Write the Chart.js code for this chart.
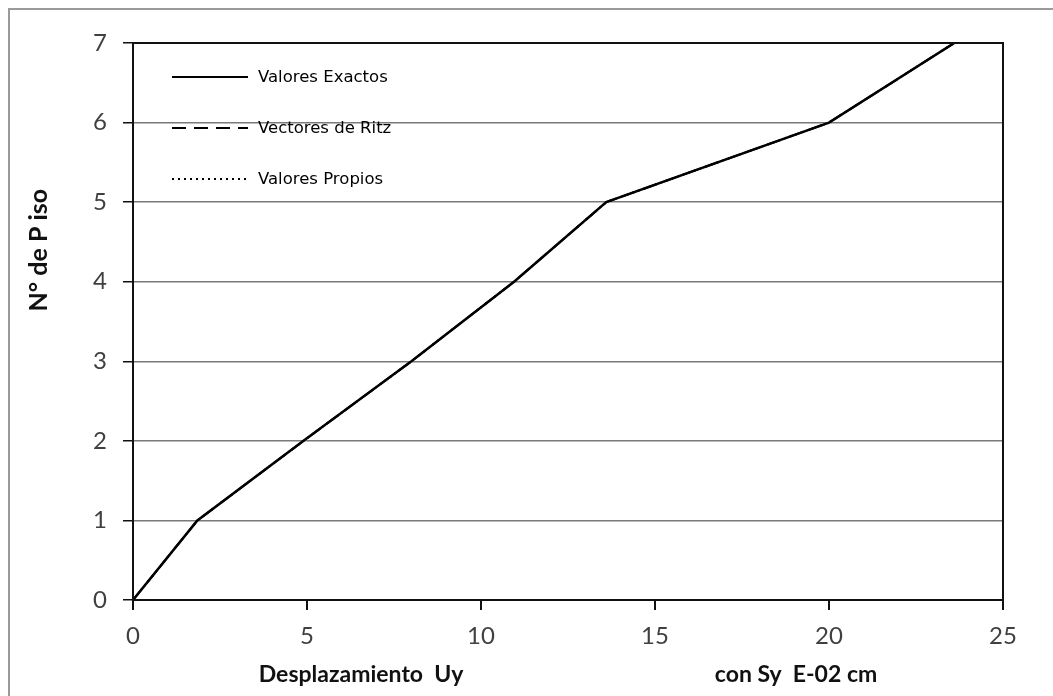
<!DOCTYPE html>
<html>
<head>
<meta charset="utf-8">
<script src="https://cdn.jsdelivr.net/npm/chart.js@4/dist/chart.umd.min.js"></script>
<style>
  body { margin: 0; background: #fff; overflow: hidden; }
  #frame { position: absolute; left: 8px; top: 8px; width: 1100px; height: 800px; border: 2px solid #9a9a9a; }
  canvas { position: absolute; left: 0; top: 0; }
</style>
</head>
<body>
<div id="frame"></div>
<canvas id="c" width="1053" height="696"></canvas>
<script>
// floor number (y) vs displacement Uy (x, E-02 cm)
const floors = [0, 1, 2, 3, 4, 5, 6, 7]
const exactos = [0, 1.85, 4.9, 8.0, 10.95, 13.6, 20.0, 23.6]
const ritz = [0, 1.85, 4.9, 8.0, 10.95, 13.6, 20.0, 23.6]
const propios = [0, 1.85, 4.9, 8.0, 10.95, 13.6, 20.0, 23.6]
const seriesNames = ['Valores Exactos', 'Vectores de Ritz', 'Valores Propios']
const xTicks = [0, 5, 10, 15, 20, 25]
const yTicks = [0, 1, 2, 3, 4, 5, 6, 7]

const toPoints = xs => xs.map((x, i) => ({ x: x, y: floors[i] }))

// box around the plot + the little line legend in the top-left corner
const decor = {
  id: 'decor',
  afterDatasetsDraw(chart) {
    const { ctx, chartArea: a } = chart
    ctx.save()
    ctx.strokeStyle = '#111'
    ctx.lineWidth = 2
    ctx.strokeRect(a.left, a.top, a.right - a.left, a.bottom - a.top)

    chart.data.datasets.forEach((ds, i) => {
      const y = 77 + i * 51
      ctx.strokeStyle = '#000'
      ctx.lineWidth = 2
      ctx.setLineDash(ds.borderDash || [])
      ctx.beginPath()
      ctx.moveTo(172, y)
      ctx.lineTo(248, y)
      ctx.stroke()
      ctx.setLineDash([])
      ctx.fillStyle = '#000'
      ctx.font = '16.5px "DejaVu Sans"'
      ctx.textBaseline = 'middle'
      ctx.fillText(ds.label, 258, y + 1)
    })
    ctx.restore()
  }
}

new Chart(document.getElementById('c'), {
  type: 'line',
  data: {
    datasets: [
      { label: seriesNames[0], data: toPoints(exactos), borderColor: '#000', borderWidth: 2.5, pointRadius: 0 },
      { label: seriesNames[1], data: toPoints(ritz), borderColor: '#000', borderWidth: 2, borderDash: [14, 8], pointRadius: 0 },
      { label: seriesNames[2], data: toPoints(propios), borderColor: '#000', borderWidth: 2, borderDash: [2, 4], pointRadius: 0 }
    ]
  },
  options: {
    responsive: false,
    animation: false,
    layout: { padding: { top: 43, right: 50 } },
    plugins: { legend: { display: false }, tooltip: { enabled: false } },
    scales: {
      x: {
        type: 'linear',
        min: 0, max: 25,
        afterBuildTicks: s => { s.ticks = xTicks.map(v => ({ value: v })) },
        afterFit: s => { s.height = 96 },
        grid: { drawOnChartArea: false, color: '#111', lineWidth: 2, tickLength: 10 },
        border: { color: '#111', width: 2 },
        ticks: { color: '#404040', font: { family: 'Lato', size: 24 }, padding: 12, maxRotation: 0 },
        title: {
          display: true,
          text: 'Desplazamiento  Uy                                             con Sy  E-02 cm',
          color: '#111',
          font: { family: 'Lato', size: 23, weight: 'bold' },
          padding: { top: 0, bottom: 8 }
        }
      },
      y: {
        min: 0, max: 7,
        afterBuildTicks: s => { s.ticks = yTicks.map(v => ({ value: v })) },
        afterFit: s => { s.width = 133 },
        grid: {
          color: ctx => ctx.tick.value === 0 || ctx.tick.value === 7 ? '#111' : '#7a7a7a',
          lineWidth: 1.5,
          tickColor: '#111',
          tickLength: 10
        },
        border: { color: '#111', width: 2 },
        ticks: { color: '#404040', font: { family: 'Lato', size: 24 }, padding: 16 },
        title: {
          display: true,
          text: 'N° de P iso                        ',
          align: 'end',
          color: '#111',
          font: { family: 'Lato', size: 25, weight: 'bold' },
          padding: { top: 24, bottom: 0 }
        }
      }
    }
  },
  plugins: [decor]
})
</script>
</body>
</html>
